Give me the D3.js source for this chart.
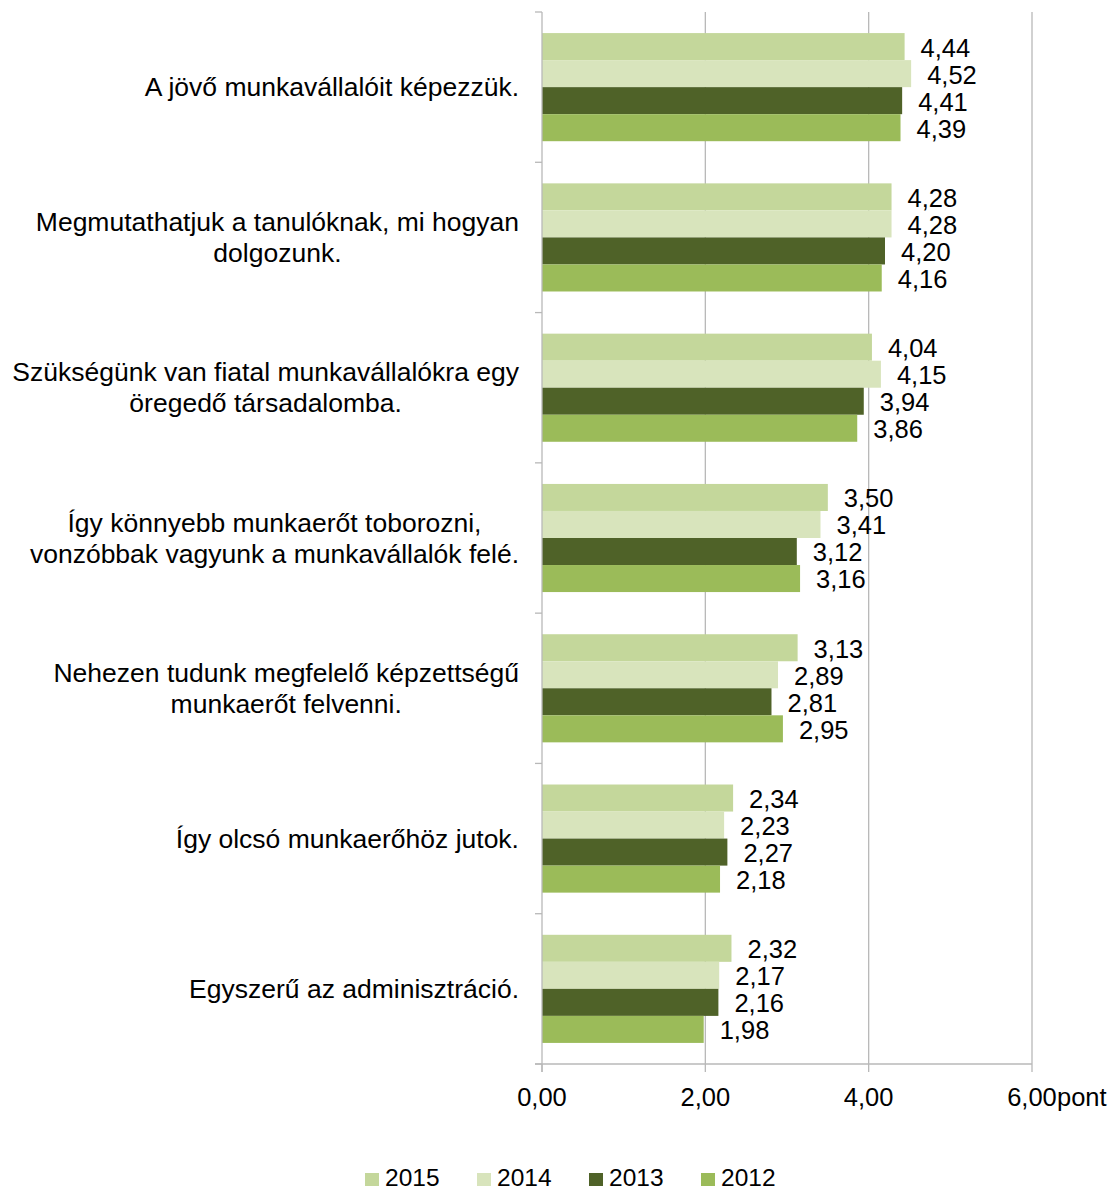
<!DOCTYPE html>
<html><head><meta charset="utf-8">
<script src="https://cdn.jsdelivr.net/npm/d3@7"></script>
<style>body{margin:0;background:#fff}svg{display:block}text{font-family:"Liberation Sans",Arial,sans-serif;fill:#000}</style>
</head><body><svg id="c" width="1111" height="1192"></svg>
<script>
const categories = [
  ["A jövő munkavállalóit képezzük."],
  ["Megmutathatjuk a tanulóknak, mi hogyan", "dolgozunk."],
  ["Szükségünk van fiatal munkavállalókra egy", "öregedő társadalomba."],
  ["Így könnyebb munkaerőt toborozni,", "vonzóbbak vagyunk a munkavállalók felé."],
  ["Nehezen tudunk megfelelő képzettségű", "munkaerőt felvenni."],
  ["Így olcsó munkaerőhöz jutok."],
  ["Egyszerű az adminisztráció."]
];
const seriesNames = ["2015", "2014", "2013", "2012"];
const v2015 = [4.44, 4.28, 4.04, 3.50, 3.13, 2.34, 2.32];
const v2014 = [4.52, 4.28, 4.15, 3.41, 2.89, 2.23, 2.17];
const v2013 = [4.41, 4.20, 3.94, 3.12, 2.81, 2.27, 2.16];
const v2012 = [4.39, 4.16, 3.86, 3.16, 2.95, 2.18, 1.98];
const xTicks = [0, 2, 4, 6];
const axisUnit = "pont";
const colors = ["#c4d79b", "#d8e4bc", "#4f6228", "#9bbb59"];

(function () {
const values = [v2015, v2014, v2013, v2012];
const svg = d3.select("#c");
const pL = 542, pR = 1032, pT = 12, pB = 1064;
const fmt = v => d3.format(".2f")(v).replace(".", ",");

const x = d3.scaleLinear().domain([0, 6]).range([pL, pR]);
const y = d3.scaleBand().domain(d3.range(categories.length)).range([pT, pB]);
const ys = d3.scaleBand().domain(seriesNames).range([0, y.bandwidth()]).paddingInner(0).paddingOuter(0.78);

// gridlines
svg.append("g").selectAll("line").data(xTicks.slice(1)).join("line")
  .attr("x1", d => x(d)).attr("x2", d => x(d)).attr("y1", pT).attr("y2", pB)
  .attr("stroke", "#b8b8b8").attr("stroke-width", 1.3);

// bars
const groups = svg.append("g").selectAll("g").data(categories).join("g")
  .attr("transform", (d, i) => `translate(0,${y(i)})`);
seriesNames.forEach((s, si) => {
  groups.append("rect")
    .attr("x", x(0)).attr("y", ys(s))
    .attr("width", (d, i) => x(values[si][i]) - x(0))
    .attr("height", ys.bandwidth())
    .attr("fill", colors[si]);
  groups.append("text")
    .attr("x", (d, i) => x(values[si][i]) + 16)
    .attr("y", ys(s) + ys.bandwidth() / 2 + 1)
    .attr("dy", "0.35em")
    .attr("font-size", "25.5px")
    .text((d, i) => fmt(values[si][i]));
});

// y axis
const yAxis = svg.append("g");
yAxis.append("line").attr("x1", pL).attr("x2", pL).attr("y1", pT).attr("y2", pB + 8)
  .attr("stroke", "#b8b8b8").attr("stroke-width", 1.3);
yAxis.selectAll("line.t").data(d3.range(categories.length + 1)).join("line").attr("class", "t")
  .attr("x1", pL - 7).attr("x2", pL)
  .attr("y1", i => pT + i * y.step()).attr("y2", i => pT + i * y.step())
  .attr("stroke", "#b8b8b8").attr("stroke-width", 1.3);

// x axis
const xAxis = svg.append("g");
xAxis.append("line").attr("x1", pL - 7).attr("x2", pR).attr("y1", pB).attr("y2", pB)
  .attr("stroke", "#b8b8b8").attr("stroke-width", 1.3);
xAxis.selectAll("line.t").data(xTicks).join("line").attr("class", "t")
  .attr("x1", d => x(d)).attr("x2", d => x(d)).attr("y1", pB).attr("y2", pB + 8)
  .attr("stroke", "#b8b8b8").attr("stroke-width", 1.3);
xAxis.selectAll("text").data(xTicks).join("text")
  .attr("x", d => x(d)).attr("y", 1106).attr("text-anchor", "middle")
  .attr("font-size", "25.5px").text(d => fmt(d));
xAxis.append("text").attr("x", x(6) + 25).attr("y", 1106).attr("font-size", "25.5px").text(axisUnit);

// category labels (center-aligned block, right edge at 519)
const labelRight = 519, lineH = 31;
categories.forEach((lines, i) => {
  const g = svg.append("g");
  const cy = y(i) + y.bandwidth() / 2;
  const ts = lines.map((t, j) => g.append("text")
    .attr("font-size", "26.5px").attr("text-anchor", "middle")
    .attr("y", cy + (j - (lines.length - 1) / 2) * lineH).attr("dy", "0.35em").text(t));
  const maxW = d3.max(ts, t => t.node().getComputedTextLength());
  ts.forEach(t => t.attr("x", labelRight - maxW / 2));
});

// legend
const leg = svg.append("g").selectAll("g").data(seriesNames).join("g")
  .attr("transform", (d, i) => `translate(${365 + i * 112},0)`);
leg.append("rect").attr("x", 0).attr("y", 1173).attr("width", 14).attr("height", 13)
  .attr("fill", (d, i) => colors[i]);
leg.append("text").attr("x", 20).attr("y", 1186).attr("font-size", "24.5px").text(d => d);
})();
</script></body></html>
